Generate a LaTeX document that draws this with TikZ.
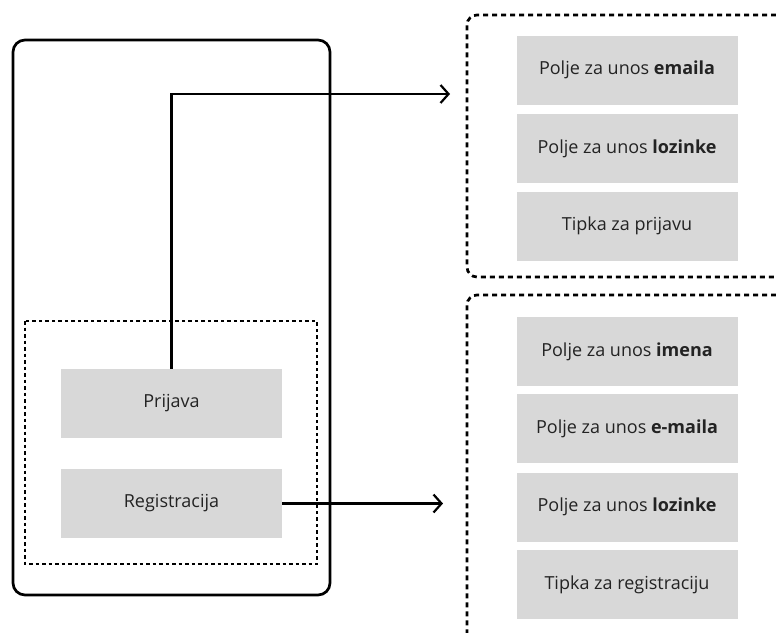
\documentclass[tikz,border=0pt]{standalone}
\usepackage{fontspec}
\setmainfont{Open Sans}
\usetikzlibrary{positioning,arrows.meta}
\tikzstyle{screen} = [x = 1pt, y = -1pt, every node/.style={font=\fontsize{18}{21}\selectfont}]
\definecolor{boxColor}{RGB}{216,216,216}
\definecolor{labelColor}{RGB}{35,35,35}
\tikzstyle{frameStyle} = [color=black, line width=2.7pt, rounded corners = 12pt]
\tikzstyle{groupStyle} = [color=black, line width=2.7pt, dash pattern=on 3.5pt off 3pt]
\tikzstyle{panelStyle} = [color=black, line width=2.7pt, dash pattern=on 5pt off 4pt, rounded corners = 10pt]
\tikzstyle{fieldStyle} = [fill=boxColor, text=labelColor, minimum width=221pt, minimum height=69pt, inner sep=0pt]
\tikzstyle{linkStyle} = [color=black, line width=2.2pt, -{Straight Barb[length=8pt, width=18pt]}]
\newcommand{\field}[4]{\node [fieldStyle] (#1) at (#2, #3) {#4};}
\newcommand{\panelSide}[2]{\draw [panelStyle] (776, #1) -- (467, #1) -- (467, #2) -- (776, #2);}

\begin{document}
\begin{tikzpicture}[screen]
  \useasboundingbox (0,0) rectangle (776,632);
  % phone screen
  \draw [frameStyle] (13,40) rectangle (330,595);
  \draw [groupStyle] (25,321) rectangle (317,564);
  \field{prijava}{171.5}{403.5}{Prijava}
  \field{registracija}{171.5}{503.5}{Registracija}

  % login form
  \panelSide{15}{277}
  \field{loginEmail}{627}{70}{Polje za unos \textbf{emaila}}
  \field{loginPass}{627}{148.5}{Polje za unos \textbf{lozinke}}
  \field{loginButton}{627}{226}{Tipka za prijavu}

  % registration form
  \panelSide{295}{660}
  \field{regName}{627}{351.5}{Polje za unos \textbf{imena}}
  \field{regEmail}{627}{428.5}{Polje za unos \textbf{e-maila}}
  \field{regPass}{627}{507}{Polje za unos \textbf{lozinke}}
  \field{regButton}{627}{584.5}{Tipka za registraciju}

  \coordinate (loginIn) at (450,94);
  \coordinate (registerIn) at (443,503.5);
  \draw [linkStyle] (prijava.north) |- (loginIn);
  \draw [linkStyle] (registracija.east) -- (registerIn);
\end{tikzpicture}
\end{document}
